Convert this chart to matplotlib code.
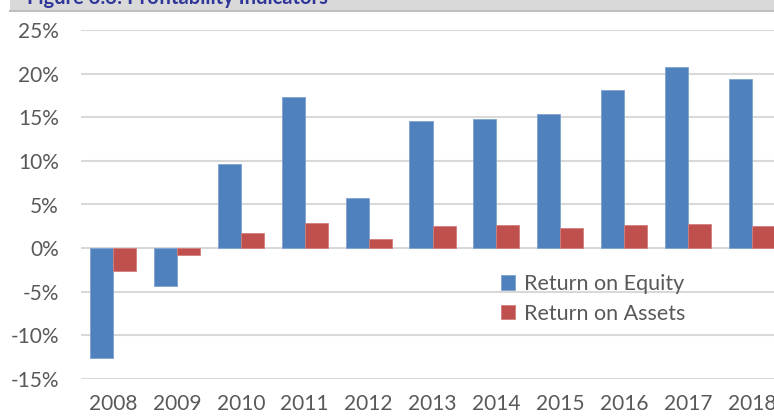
import matplotlib
matplotlib.use('Agg')
import matplotlib.pyplot as plt
import numpy as np
from matplotlib.patches import Rectangle
from matplotlib.lines import Line2D

plt.rcParams['font.family'] = ['Lato', 'DejaVu Sans']

YEARS = ['2008', '2009', '2010', '2011', '2012', '2013', '2014', '2015', '2016', '2017', '2018']
ROE = [-12.6, -4.3, 9.6, 17.3, 5.8, 14.6, 14.8, 15.4, 18.1, 20.8, 19.4]
ROA = [-2.6, -0.8, 1.7, 2.9, 1.0, 2.5, 2.6, 2.3, 2.6, 2.8, 2.5]
YTICKS = [-15, -10, -5, 0, 5, 10, 15, 20, 25]

BLUE = '#4f81bd'
RED = '#c0504d'
TXT = '#595959'

W, H = 774, 419
fig = plt.figure(figsize=(W / 100, H / 100), dpi=100)

# clipped title band at the top
fig.patches.append(Rectangle((10 / W, 1 - 11 / H), 1, 11 / H, transform=fig.transFigure,
                             facecolor='#d9d9d9', edgecolor='none', zorder=0))
fig.lines.append(Line2D([10 / W, 1], [1 - 11.5 / H, 1 - 11.5 / H], transform=fig.transFigure,
                        color='#bfbfbf', linewidth=1.5))
fig.text(27 / W, 1 - 4 / H, 'Figure 3.3: Profitability Indicators', fontsize=14.5,
         fontweight='bold', color='#2f3699', va='baseline', ha='left')

ax = fig.add_axes([81 / W, 1 - 379 / H, 703 / W, 349 / H])
x = np.arange(len(YEARS))
bw = 0.36
ax.bar(x - bw / 2, ROE, bw, color=BLUE, edgecolor='#7fa3d1', linewidth=0.6,
       label='Return on Equity', zorder=3)
ax.bar(x + bw / 2, ROA, bw, color=RED, edgecolor='#d07f7d', linewidth=0.6,
       label='Return on Assets', zorder=3)

ax.set_xlim(-0.5, len(YEARS) - 0.5)
ax.set_ylim(-15, 25)
ax.set_yticks(YTICKS)
ax.set_yticklabels([f'{v}%' for v in YTICKS])
ax.set_xticks(x)
ax.set_xticklabels(YEARS)
ax.grid(axis='y', color='#d9d9d9', linewidth=1.5, zorder=0)
ax.set_axisbelow(True)
for s in ax.spines.values():
    s.set_visible(False)
ax.tick_params(axis='both', length=0, labelsize=15, colors=TXT)
ax.tick_params(axis='y', pad=16)
ax.tick_params(axis='x', pad=11)

ax.legend(loc='upper left', bbox_to_anchor=(501 / W, 1 - 274 / H), bbox_transform=fig.transFigure,
          frameon=False, fontsize=15.5, labelcolor=TXT, handlelength=0.65, handleheight=0.65,
          handletextpad=0.4, labelspacing=0.45, borderaxespad=0, borderpad=0)

fig.savefig('out.png', dpi=100)
